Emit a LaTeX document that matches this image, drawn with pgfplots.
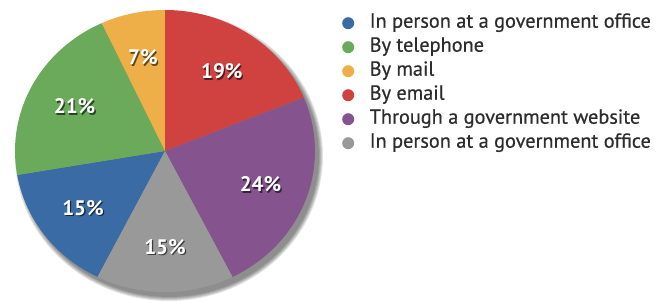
\documentclass[border=0pt]{standalone}
\usepackage{pgfplots}
\pgfplotsset{compat=1.18}
\usepackage{fontspec}
\setmainfont{PT Sans}
\newfontfamily\legfont{PT Sans}[FakeBold=0.6]
\definecolor{cblue}{RGB}{58,107,165}
\definecolor{cgreen}{RGB}{106,170,90}
\definecolor{cyellow}{RGB}{238,174,72}
\definecolor{cred}{RGB}{208,66,63}
\definecolor{cpurple}{RGB}{133,84,143}
\definecolor{cgray}{RGB}{152,153,152}
\definecolor{ctext}{RGB}{45,45,45}
% shares (percent), clockwise from 12 o'clock
\def\pRed{19}\def\pPurple{24}\def\pGray{15}\def\pBlue{15}\def\pGreen{21}\def\pYellow{7}
\pgfmathsetmacro\tot{\pRed+\pPurple+\pGray+\pBlue+\pGreen+\pYellow}
\pgfmathsetmacro\aA{90}
\pgfmathsetmacro\aB{\aA-360*\pRed/\tot}
\pgfmathsetmacro\aC{\aB-360*\pPurple/\tot}
\pgfmathsetmacro\aD{\aC-360*\pGray/\tot}
\pgfmathsetmacro\aE{\aD-360*\pBlue/\tot}
\pgfmathsetmacro\aF{\aE-360*\pGreen/\tot}
\pgfmathsetmacro\aG{\aF-360*\pYellow/\tot}
\def\cx{165}\def\cy{153}\def\rx{150}\def\ry{141}
\def\lf{0.68}
\newcommand\lbl[3]{% start, end, text
  \pgfmathsetmacro\m{(#1+#2)/2}%
  \pgfmathsetmacro\lx{\cx+\lf*\rx*cos(\m)}%
  \pgfmathsetmacro\ly{\cy+\lf*\ry*sin(\m)}%
  \pgfmathsetmacro\sx{\lx+1.3}%
  \pgfmathsetmacro\sy{\ly-1.3}%
  \edef\tmp{\noexpand\node[text=black, opacity=0.6, font=\noexpand\bfseries\noexpand\fontsize{21}{21}\noexpand\selectfont] at (axis cs:\sx,\sy) {#3};
  \noexpand\node[text=white, font=\noexpand\bfseries\noexpand\fontsize{21}{21}\noexpand\selectfont] at (axis cs:\lx,\ly) {#3};}%
  \tmp
}
\begin{document}
\begin{tikzpicture}
\begin{axis}[
  scale only axis, width=666pt, height=304pt,
  xmin=0, xmax=666, ymin=0, ymax=304,
  hide axis, clip=false,
  legend image code/.code={\fill[#1] (5pt,0pt) circle (6pt);},
  legend cell align=left,
  legend style={at={(axis cs:342,289.5)}, anchor=north west, draw=none, fill=none,
    inner sep=0pt, font=\legfont\fontsize{20.3}{20.3}\selectfont, text=ctext,
    row sep=7pt, nodes={inner sep=0pt, text height=13pt, text depth=4pt},
    /tikz/every odd column/.append style={column sep=15.5pt}},
]
\path (axis cs:0,0) rectangle (axis cs:666,304);
% soft shadow
\foreach \s in {0,1,2,3,4}{
  \addplot[forget plot, fill=black, fill opacity=0.11, draw=none, domain=0:360, samples=120]
    ({\cx+4+(\rx+\s)*cos(x)}, {\cy-5+(\ry+\s)*sin(x)}) -- cycle;
}
\addplot[fill=cblue, draw=none, domain=\aE:\aD, samples=60] ({\cx+\rx*cos(x)}, {\cy+\ry*sin(x)}) -- (axis cs:\cx,\cy) -- cycle;
\addlegendentry{In person at a government office}
\addplot[fill=cgreen, draw=none, domain=\aF:\aE, samples=60] ({\cx+\rx*cos(x)}, {\cy+\ry*sin(x)}) -- (axis cs:\cx,\cy) -- cycle;
\addlegendentry{By telephone}
\addplot[fill=cyellow, draw=none, domain=\aG:\aF, samples=60] ({\cx+\rx*cos(x)}, {\cy+\ry*sin(x)}) -- (axis cs:\cx,\cy) -- cycle;
\addlegendentry{By mail}
\addplot[fill=cred, draw=none, domain=\aB:\aA, samples=60] ({\cx+\rx*cos(x)}, {\cy+\ry*sin(x)}) -- (axis cs:\cx,\cy) -- cycle;
\addlegendentry{By email}
\addplot[fill=cpurple, draw=none, domain=\aC:\aB, samples=60] ({\cx+\rx*cos(x)}, {\cy+\ry*sin(x)}) -- (axis cs:\cx,\cy) -- cycle;
\addlegendentry{Through a government website}
\addplot[fill=cgray, draw=none, domain=\aD:\aC, samples=60] ({\cx+\rx*cos(x)}, {\cy+\ry*sin(x)}) -- (axis cs:\cx,\cy) -- cycle;
\addlegendentry{In person at a government office}
\lbl{\aA}{\aB}{19\%}
\lbl{\aB}{\aC}{24\%}
\lbl{\aC}{\aD}{15\%}
\lbl{\aD}{\aE}{15\%}
\lbl{\aE}{\aF}{21\%}
\lbl{\aF}{\aG}{7\%}
\end{axis}
\end{tikzpicture}
\end{document}
